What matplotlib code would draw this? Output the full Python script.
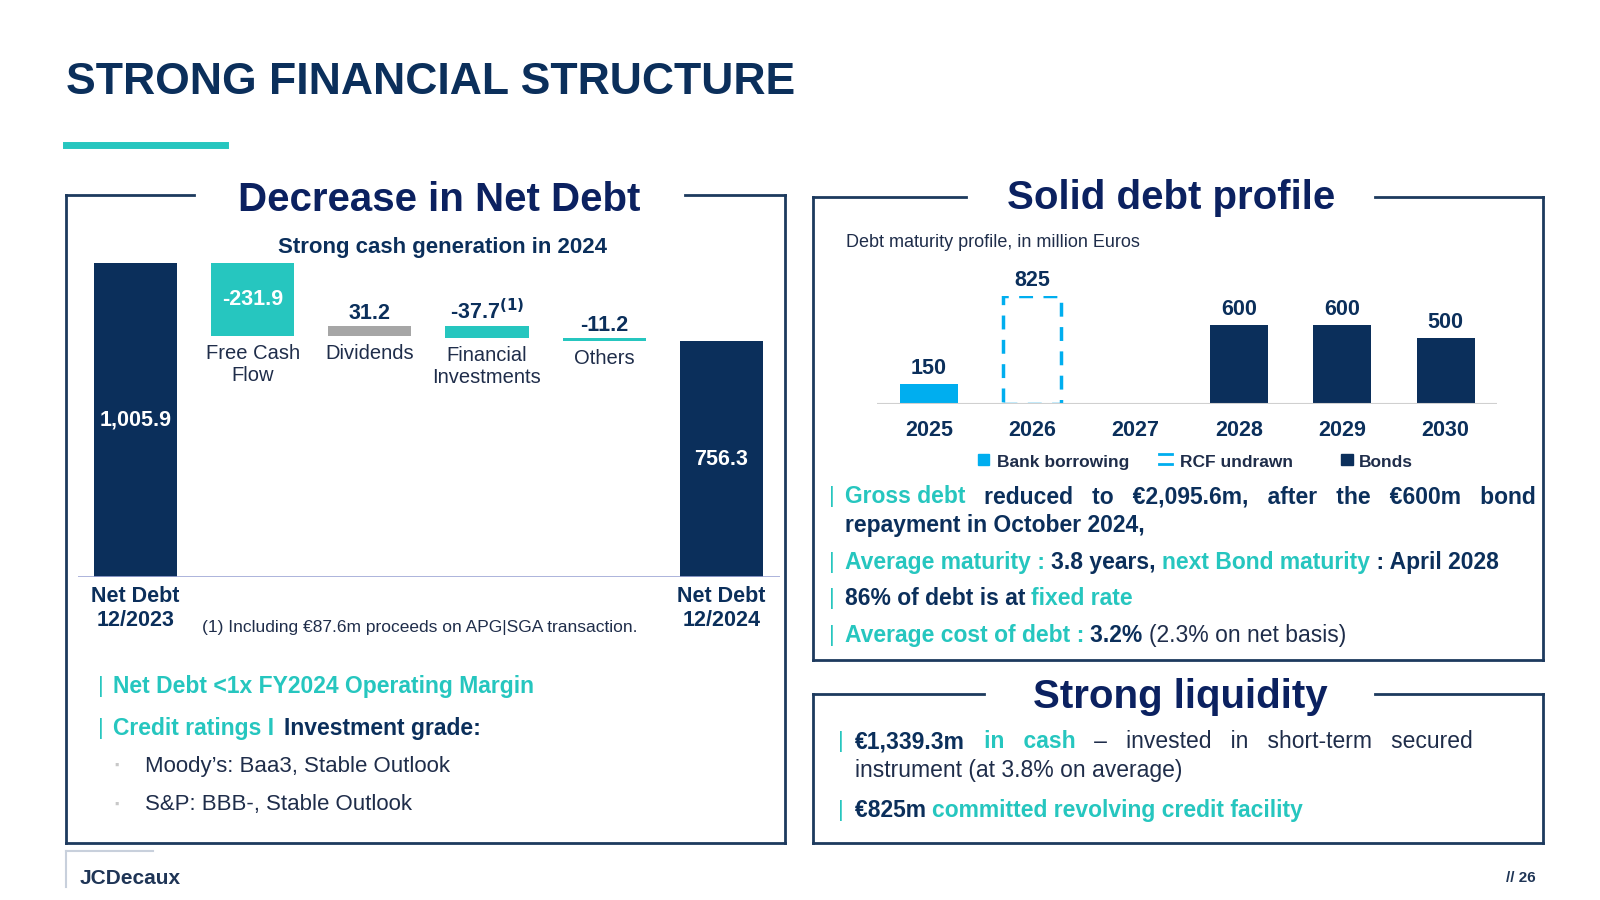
import matplotlib
matplotlib.use("Agg")
import matplotlib.pyplot as plt
from matplotlib.patches import Rectangle
from matplotlib.lines import Line2D

plt.rcParams["font.family"] = "Liberation Sans"

# ---------------- data ----------------
wf_labels = ["Net Debt\n12/2023", "Free Cash\nFlow", "Dividends", "Financial\nInvestments", "Others", "Net Debt\n12/2024"]
wf_values = [1005.9, -231.9, 31.2, -37.7, -11.2, 756.3]
wf_texts = ["1,005.9", "-231.9", "31.2", "-37.7", "-11.2", "756.3"]

years = ["2025", "2026", "2027", "2028", "2029", "2030"]
bank = [150, 0, 0, 0, 0, 0]
rcf = [0, 825, 0, 0, 0, 0]
bonds = [0, 0, 0, 600, 600, 500]
mat_labels = ["150", "825", "", "600", "600", "500"]

NAVY = "#0b2f5b"
TEAL = "#26c6bf"
BORDER = "#1d3a5e"
GREY = "#a6a6a6"
BLUE = "#00aeef"
TXT = "#1f2d4a"

W, H = 1600, 900
SX, SY = 1.02, 1.02
fig = plt.figure(figsize=(16, 9), dpi=100)


def P(x, y):
    return (x * SX / W, 1 - y * SY / H)


def T(x, y, s, **kw):
    kw.setdefault("color", NAVY)
    kw.setdefault("va", "center")
    fig.text(*P(x, y + 3), s, **kw)


def L(x0, y0, x1, y1, **kw):
    a, b = P(x0, y0)
    c, d = P(x1, y1)
    fig.add_artist(Line2D([a, c], [b, d], transform=fig.transFigure, **kw))


def box(x0, y0, x1, y1, g0, g1):
    kw = dict(color=BORDER, lw=2)
    L(x0, y0, g0, y0, **kw)
    L(g1, y0, x1, y0, **kw)
    L(x0, y0, x0, y1, **kw)
    L(x1, y0, x1, y1, **kw)
    L(x0, y1, x1, y1, **kw)


# ---- header ----
T(65, 78, "STRONG FINANCIAL STRUCTURE", fontsize=32, fontweight="bold", ha="left")
L(65, 142, 221, 142, color=TEAL, lw=5)

# ---- boxes ----
box(65, 191, 770, 826, 190, 672)
box(797, 193, 1513, 647, 947, 1348)
box(797, 680, 1513, 826, 965, 1348)
T(431, 193, "Decrease in Net Debt", fontsize=29, fontweight="bold", ha="center", color="#0b2160")
T(1148, 191, "Solid debt profile", fontsize=29, fontweight="bold", ha="center", color="#0b2160")
T(1157, 680, "Strong liquidity", fontsize=29, fontweight="bold", ha="center", color="#0b2160")

# ---- waterfall ----
x0, y0 = P(76, 566)
x1, y1 = P(765, 258)
ax = fig.add_axes([x0, y0, x1 - x0, y1 - y0])
ax.set_xlim(-57 / 115, 5 + 58 / 115)
ax.set_ylim(0, wf_values[0])
ax.axis("off")
wcol = [NAVY, TEAL, GREY, TEAL, TEAL, NAVY]
level = 0
for i, v in enumerate(wf_values):
    if i == 0 or i == len(wf_values) - 1:
        bottom, h = 0, v
        level = v
    else:
        new = level + v
        bottom, h = min(level, new), abs(v)
        level = new
    ax.bar(i, h, bottom=bottom, width=0.71, color=wcol[i], linewidth=0)
    top = bottom + h
    if i in (0, 5):
        ax.text(i, h * 0.5, wf_texts[i], ha="center", va="center", color="white",
                fontsize=15.5, fontweight="bold")
        ax.text(i, -28, wf_labels[i], ha="center", va="top", color=NAVY, fontsize=15.5,
                fontweight="bold", linespacing=1.2, clip_on=False)
    elif i == 1:
        ax.text(i, bottom + h * 0.5, wf_texts[i], ha="center", va="center", color="white",
                fontsize=15.5, fontweight="bold")
        ax.text(i, bottom - 26, wf_labels[i], ha="center", va="top", color=TXT, fontsize=14.5,
                linespacing=1.25)
    else:
        lab = wf_texts[i] + (r"$^{\mathbf{(1)}}$" if i == 3 else "")
        ax.text(i, top + 6, lab, ha="center", va="bottom", color=NAVY, fontsize=15.5,
                fontweight="bold")
        ax.text(i, bottom - 26, wf_labels[i], ha="center", va="top", color=TXT, fontsize=14.5,
                linespacing=1.25)
ax.axhline(0, color="#9ea7d6", lw=1.2, xmin=0, xmax=1)
T(434, 240, "Strong cash generation in 2024", fontsize=16, fontweight="bold", ha="center")
T(198, 612, "(1) Including €87.6m proceeds on APG|SGA transaction.", fontsize=12.5, ha="left", color=TXT)

# ---- left bullets ----
T(96, 670, "|", fontsize=16, color=TEAL, ha="left")
T(111, 670, "Net Debt <1x FY2024 Operating Margin", fontsize=16.5, fontweight="bold", color=TEAL, ha="left")
T(96, 711, "|", fontsize=16, color=TEAL, ha="left")
T(111, 711, "Credit ratings I ", fontsize=16.5, fontweight="bold", color=TEAL, ha="left")
T(278, 711, "Investment grade:", fontsize=16.5, fontweight="bold", color=NAVY, ha="left")
T(112, 748, "▪", fontsize=9, color="#c8c8c8", ha="left")
T(142, 748, "Moody’s: Baa3, Stable Outlook", fontsize=16, color=TXT, ha="left")
T(112, 786, "▪", fontsize=9, color="#c8c8c8", ha="left")
T(142, 786, "S&P: BBB-, Stable Outlook", fontsize=16, color=TXT, ha="left")

# ---- maturity chart ----
x0, y0 = P(860, 396)
x1, y1 = P(1468, 290)
ax2 = fig.add_axes([x0, y0, x1 - x0, y1 - y0])
ax2.set_xlim(-0.5, 5.5)
ax2.set_ylim(0, 825)
ax2.axis("off")
xs = list(range(len(years)))
ax2.bar(xs, bank, width=0.56, color=BLUE, linewidth=0)
ax2.bar(xs, bonds, width=0.56, color=NAVY, linewidth=0)
for i, v in enumerate(rcf):
    if v:
        ax2.bar(i, v, width=0.56, fill=False, edgecolor=BLUE, linewidth=2.5, linestyle=(0, (4, 3)))
for i in xs:
    tot = bank[i] + rcf[i] + bonds[i]
    if mat_labels[i]:
        ax2.text(i, tot + 40, mat_labels[i], ha="center", va="bottom", fontsize=15.5,
                 fontweight="bold", color=NAVY, clip_on=False)
    ax2.text(i, -120, years[i], ha="center", va="top", fontsize=15.5, fontweight="bold",
             color=NAVY, clip_on=False)
ax2.axhline(0, color="#d0d0d0", lw=1.5)
T(829, 235, "Debt maturity profile, in million Euros", fontsize=13, color=TXT, ha="left")
# legend
fig.add_artist(Rectangle(P(959, 456), 11 * SX / W, 11 * SY / H, transform=fig.transFigure, color=BLUE))
T(977, 450, "Bank borrowing", fontsize=12.5, fontweight="bold", color=TXT, ha="left")
L(1136, 445, 1149, 445, color=BLUE, lw=2)
L(1136, 455, 1149, 455, color=BLUE, lw=2)
T(1157, 450, "RCF undrawn", fontsize=12.5, fontweight="bold", color=TXT, ha="left")
fig.add_artist(Rectangle(P(1315, 456), 11 * SX / W, 11 * SY / H, transform=fig.transFigure, color=NAVY))
T(1332, 450, "Bonds", fontsize=12.5, fontweight="bold", color=TXT, ha="left")


def rich(x, y, parts, fs=16.5):
    """parts: list of (text, color, weight); consecutive placement"""
    r = fig.canvas.get_renderer()
    xf, yf = P(x, y + 3)
    for s, c, w in parts:
        t = fig.text(xf, yf, s, color=c, fontweight=w, fontsize=fs, va="center", ha="left")
        bb = t.get_window_extent(renderer=r)
        xf += bb.width / W


B, N = "bold", "normal"
T(813, 484, "|", fontsize=16, color=TEAL, ha="left")
rich(828, 484, [("Gross debt", TEAL, B), ("   reduced   to   €2,095.6m,   after   the   €600m   bond", NAVY, B)])
T(828, 512, "repayment in October 2024,", fontsize=16.5, fontweight="bold", ha="left")
T(813, 548, "|", fontsize=16, color=TEAL, ha="left")
rich(828, 548, [("Average maturity : ", TEAL, B), ("3.8 years, ", NAVY, B),
                ("next Bond maturity", TEAL, B), (" : April 2028", NAVY, B)])
T(813, 584, "|", fontsize=16, color=TEAL, ha="left")
rich(828, 584, [("86% of debt is at ", NAVY, B), ("fixed rate", TEAL, B)])
T(813, 620, "|", fontsize=16, color=TEAL, ha="left")
rich(828, 620, [("Average cost of debt : ", TEAL, B), ("3.2% ", NAVY, B), ("(2.3% on net basis)", TXT, N)])

# ---- liquidity ----
T(822, 724, "|", fontsize=16, color=TEAL, ha="left")
rich(838, 724, [("€1,339.3m", NAVY, B), ("   in   cash", TEAL, B),
                ("   –   invested   in   short-term   secured", TXT, N)])
T(838, 752, "instrument (at 3.8% on average)", fontsize=16.5, color=TXT, ha="left")
T(822, 792, "|", fontsize=16, color=TEAL, ha="left")
rich(838, 792, [("€825m ", NAVY, B), ("committed revolving credit facility", TEAL, B)])

# ---- footer ----
L(65, 834, 65, 870, color="#c8d0dc", lw=1.5)
L(65, 834, 150, 834, color="#c8d0dc", lw=1.5)
T(78, 858, "JCDecaux", fontsize=15, fontweight="bold", color="#1f3556", ha="left")
T(1506, 858, "// 26", fontsize=11, fontweight="bold", color="#1f3556", ha="right")

fig.savefig("out.png", dpi=100)
